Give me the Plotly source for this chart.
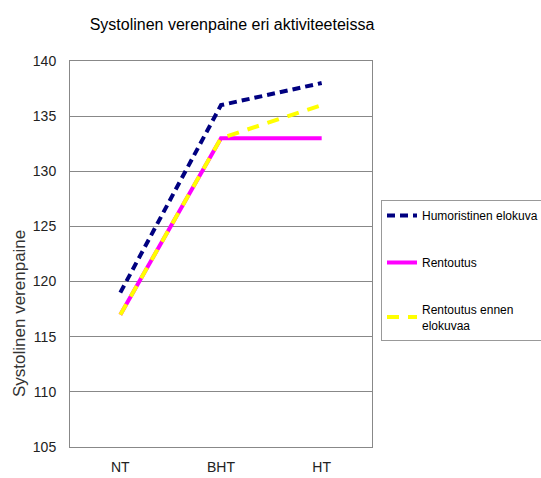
import plotly.graph_objects as go

categories = ["NT", "BHT", "HT"]
humoristinen = [119, 136, 138]
rentoutus = [117, 133, 133]
rentoutus_ennen = [117, 133, 136]
series_names = ["Humoristinen elokuva", "Rentoutus", "Rentoutus ennen<br>elokuvaa"]
y_ticks = [105, 110, 115, 120, 125, 130, 135, 140]

FONT = "Liberation Sans, Arial"

fig = go.Figure()
fig.add_trace(go.Scatter(x=categories, y=humoristinen, mode="lines", name=series_names[0],
                         legendgroup="a",
                         line=dict(color="#000080", width=4, dash="8px,5px")))
fig.add_trace(go.Scatter(x=categories, y=rentoutus, mode="lines", name=series_names[1],
                         legendgroup="b",
                         line=dict(color="#FF00FF", width=4)))
fig.add_trace(go.Scatter(x=categories, y=rentoutus_ennen, mode="lines", name=series_names[2],
                         legendgroup="c",
                         line=dict(color="#FFFF00", width=4, dash="12px,9px")))

W, H = 541, 478
left, right_edge = 70, 372
top, bottom = 61, 447
fig.update_layout(
    width=W, height=H,
    margin=dict(l=left, r=0, t=top, b=H - bottom, autoexpand=False),
    paper_bgcolor="white", plot_bgcolor="white",
    font=dict(family=FONT, size=13, color="#222"),
    title=dict(text="Systolinen verenpaine eri aktiviteeteissa", x=232 / W, xanchor="center",
               y=1 - 24 / H, yanchor="middle",
               font=dict(family=FONT, size=16, color="black")),
    xaxis=dict(domain=[0, (right_edge - left) / (W - left)], range=[-0.5, 2.5],
               showgrid=False, showline=True, linecolor="#888", linewidth=1, mirror=True,
               ticks="", tickfont=dict(size=14, color="#222"), ticklabelstandoff=7),
    yaxis=dict(range=[105, 140], tickvals=y_ticks, showgrid=True, gridcolor="#888", gridwidth=1,
               showline=True, linecolor="#888", linewidth=1, mirror=True, zeroline=False,
               ticks="", tickfont=dict(size=14, color="#222"), ticklabelstandoff=10),
    showlegend=True,
    legend=dict(xref="container", yref="container", x=381 / W, xanchor="left",
                y=1 - 200 / H, yanchor="top", bordercolor="#999", borderwidth=1, bgcolor="white",
                font=dict(family=FONT, size=12, color="black"),
                traceorder="grouped", tracegroupgap=28, itemwidth=30),
    annotations=[dict(text="Systolinen verenpaine", textangle=-90, xref="paper", yref="paper",
                      x=-(left - 19) / (W - left), y=1 - (314 - top) / (bottom - top),
                      xanchor="center", yanchor="middle", showarrow=False,
                      font=dict(family=FONT, size=17, color="#333"))],
)
fig.write_html("out.html")
